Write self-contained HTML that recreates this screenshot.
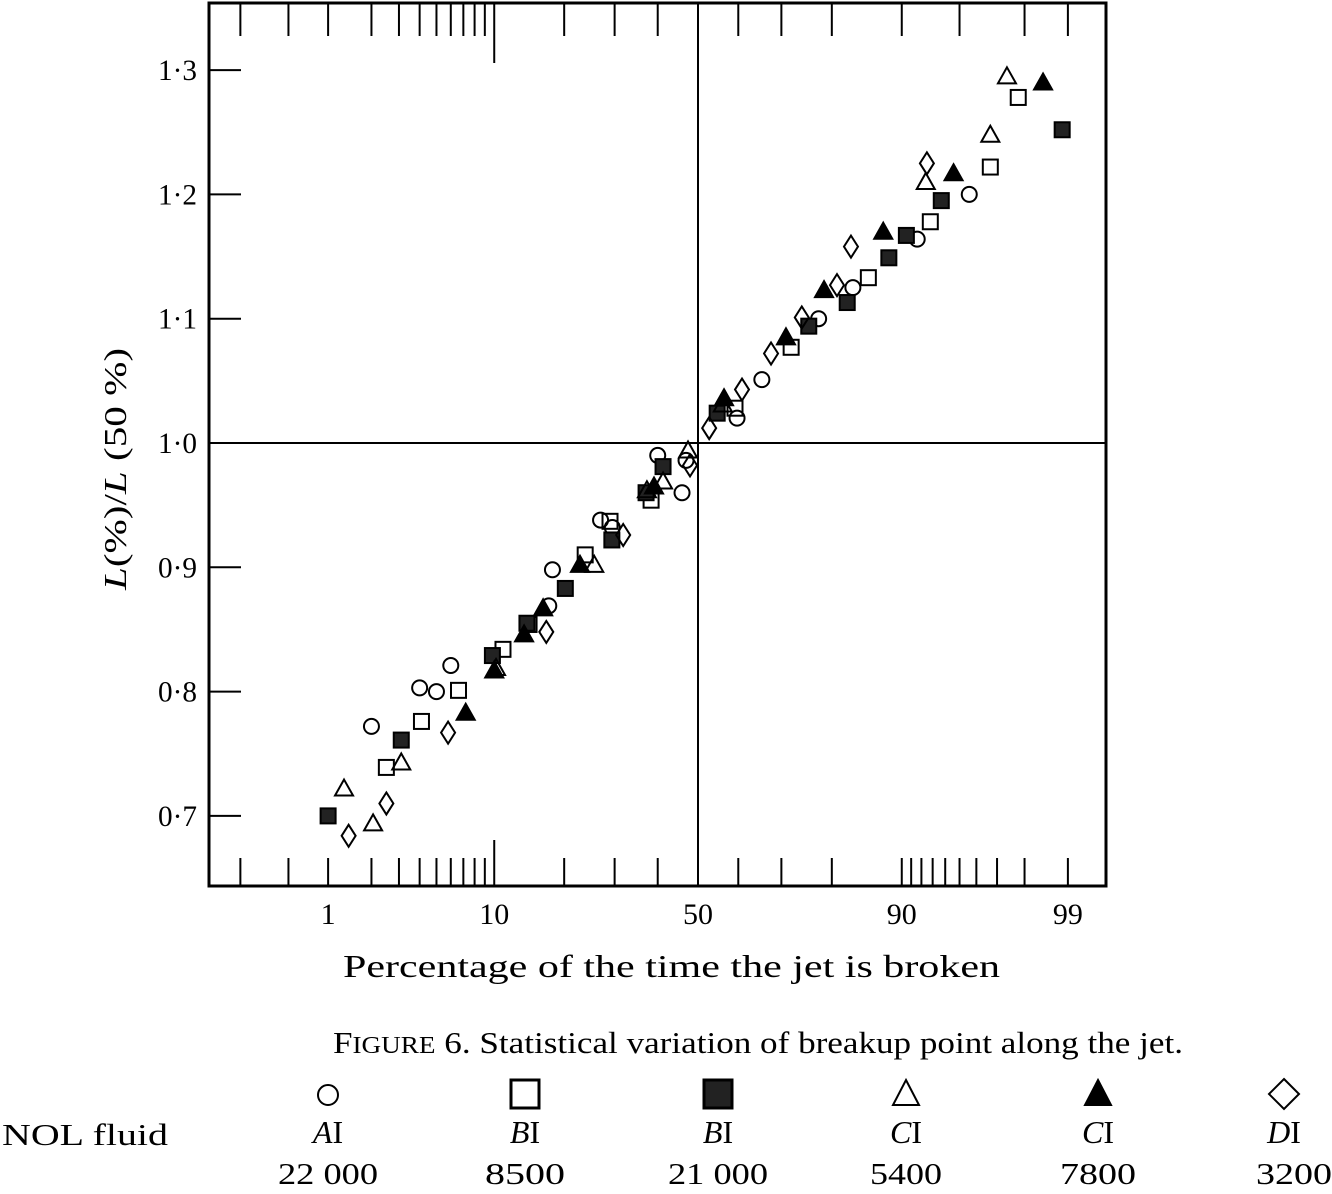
<!DOCTYPE html>
<html><head><meta charset="utf-8"><style>
body{margin:0;background:#fff;}
svg text{font-family:"Liberation Serif",serif;fill:#000;}
</style></head><body>
<svg id="chart" width="1332" height="1189" viewBox="0 0 1332 1189" xmlns="http://www.w3.org/2000/svg">
<g id="axes"></g>
<g id="marks"></g>
<text x="343" y="977" font-size="32" textLength="657" lengthAdjust="spacingAndGlyphs">Percentage of the time the jet is broken</text>
<text transform="translate(126,469) rotate(-90)" x="-121" y="0" font-size="32" textLength="242" lengthAdjust="spacingAndGlyphs"><tspan font-style="italic">L</tspan>(%)/<tspan font-style="italic">L</tspan> (50 %)</text>
<text x="333" y="1053" font-size="31" textLength="850" lengthAdjust="spacingAndGlyphs">F<tspan font-size="24">IGURE</tspan> 6. Statistical variation of breakup point along the jet.</text>
<text x="2" y="1145" font-size="31" textLength="166" lengthAdjust="spacingAndGlyphs">NOL fluid</text>
<g id="legend"></g>
</svg>
<script>
const yTicks=[0.7,0.8,0.9,1.0,1.1,1.2,1.3];
const yTickLabels=["0·7","0·8","0·9","1·0","1·1","1·2","1·3"];
const xLabelTicks=[1,10,50,90,99];
const bottomTicks=[0.2,0.5,1,2,3,4,5,6,7,8,9,10,20,30,40,50,60,70,80,90,91,92,93,94,95,96,97,98,99];
const topTicks=[0.2,0.5,1,2,3,4,5,6,7,8,9,10,20,30,40,50,60,70,80,90,95,98,99];
const aX=[2.0,4.0,5.0,6.0,18,17.4,27,29.5,40,46,47,59.7,65.6,77.6,83.5,91.6,95.6];
const aY=[0.772,0.803,0.800,0.821,0.898,0.869,0.938,0.932,0.990,0.960,0.986,1.020,1.051,1.100,1.125,1.164,1.200];
const bX=[2.5,4.1,6.6,11,14.4,23.9,29,38.4,59.2,72.1,85.8,92.8,96.7,97.8];
const bY=[0.739,0.776,0.801,0.834,0.854,0.910,0.937,0.954,1.028,1.077,1.133,1.178,1.222,1.278];
const b2X=[1.0,3.1,9.8,14.1,20.2,29.4,37.2,41.3,54.8,75.7,82.6,88.5,90.5,93.7,98.9];
const b2Y=[0.700,0.761,0.829,0.855,0.883,0.922,0.960,0.981,1.024,1.094,1.113,1.149,1.167,1.195,1.252];
const cX=[1.3,2.05,3.1,10.2,25.7,37.4,41.3,47.5,56.2,92.4,96.7,97.4];
const cY=[0.722,0.694,0.743,0.819,0.902,0.962,0.969,0.994,1.031,1.210,1.248,1.295];
const c2X=[7.2,10,13.7,16.5,22.9,39.1,56.5,71,78.6,87.8,94.6,98.5];
const c2Y=[0.783,0.817,0.846,0.867,0.902,0.965,1.036,1.085,1.123,1.170,1.217,1.290];
const dX=[1.4,2.5,5.8,17,31.9,48,52.8,60.9,67.7,74.3,80.9,83.2,92.5];
const dY=[0.684,0.710,0.767,0.848,0.926,0.982,1.012,1.043,1.072,1.101,1.127,1.158,1.225];
const legendNames=["AI","BI","BI","CI","CI","DI"];
const legendValues=["22 000","8500","21 000","5400","7800","3200"];

const NS="http://www.w3.org/2000/svg";
const L=209,R=1106,T=3,B=886;
function ninv(p){const a=[-39.69683028665376,220.9460984245205,-275.9285104469687,138.357751867269,-30.66479806614716,2.506628277459239],b=[-54.47609879822406,161.5858368580409,-155.6989798598866,66.80131188771972,-13.28068155288572],c=[-0.007784894002430293,-0.3223964580411365,-2.400758277161838,-2.549732539343734,4.374664141464968,2.938163982698783],d=[0.007784695709041462,0.3224671290700398,2.445134137142996,3.754408661907416];
if(p<0.02425){const q=Math.sqrt(-2*Math.log(p));return(((((c[0]*q+c[1])*q+c[2])*q+c[3])*q+c[4])*q+c[5])/((((d[0]*q+d[1])*q+d[2])*q+d[3])*q+1);}
if(p>1-0.02425){const q=Math.sqrt(-2*Math.log(1-p));return-(((((c[0]*q+c[1])*q+c[2])*q+c[3])*q+c[4])*q+c[5])/((((d[0]*q+d[1])*q+d[2])*q+d[3])*q+1);}
const q=p-0.5,r=q*q;return(((((a[0]*r+a[1])*r+a[2])*r+a[3])*r+a[4])*r+a[5])*q/(((((b[0]*r+b[1])*r+b[2])*r+b[3])*r+b[4])*r+1);}
function xS(pct){return 698+159*ninv(pct/100);}
function yS(v){return 443-(v-1)*1243;}
function mk(tag,attrs,parent){const e=document.createElementNS(NS,tag);for(const k in attrs)e.setAttribute(k,attrs[k]);parent.appendChild(e);return e;}
const ax=document.getElementById('axes');
const frame=mk('rect',{x:L,y:T,width:R-L,height:B-T,fill:'none',stroke:'#000','stroke-width':3},ax);


const vl=mk('line',{x1:xS(50),x2:xS(50),y1:T,y2:B,stroke:'#000','stroke-width':2},ax);


const hl=mk('line',{x1:L,x2:R,y1:yS(1),y2:yS(1),stroke:'#000','stroke-width':2},ax);


yTicks.forEach((v,i)=>{
 const t=mk('line',{x1:L,x2:L+32,y1:yS(v),y2:yS(v),stroke:'#000','stroke-width':2},ax);
 
 
 const tx=mk('text',{x:158,y:yS(v)+10,'font-size':30,textLength:39,lengthAdjust:'spacingAndGlyphs'},ax);
 tx.textContent=yTickLabels[i];
 
 
});
bottomTicks.forEach(p=>{
 const len=p===10?46:28;
 const t=mk('line',{x1:xS(p),x2:xS(p),y1:B-len,y2:B,stroke:'#000','stroke-width':2},ax);
 
 
});
topTicks.forEach(p=>{
 const t=mk('line',{x1:xS(p),x2:xS(p),y1:T,y2:T+(p===10?60:33),stroke:'#000','stroke-width':2},ax);
 
 
});
xLabelTicks.forEach(p=>{
 const tx=mk('text',{x:xS(p),y:924,'text-anchor':'middle','font-size':30},ax);
 tx.textContent=String(p);
 
 
});
function marker(kind,cx,cy,parent){
 const s=7.5;let e;
 if(kind==='circle')e=mk('circle',{cx:cx,cy:cy,r:7.5,fill:'none',stroke:'#000','stroke-width':2},parent);
 else if(kind==='square')e=mk('rect',{x:cx-s,y:cy-s,width:2*s,height:2*s,fill:'none',stroke:'#000','stroke-width':2},parent);
 else if(kind==='fsquare')e=mk('rect',{x:cx-s,y:cy-s,width:2*s,height:2*s,fill:'#222',stroke:'#000','stroke-width':2},parent);
 else if(kind==='tri')e=mk('polygon',{points:`${cx},${cy-9} ${cx+9},${cy+7} ${cx-9},${cy+7}`,fill:'none',stroke:'#000','stroke-width':2},parent);
 else if(kind==='ftri')e=mk('polygon',{points:`${cx},${cy-9} ${cx+9},${cy+7} ${cx-9},${cy+7}`,fill:'#000',stroke:'#000','stroke-width':2},parent);
 else e=mk('polygon',{points:`${cx},${cy-11} ${cx+7},${cy} ${cx},${cy+11} ${cx-7},${cy}`,fill:'none',stroke:'#000','stroke-width':2},parent);
 return e;
}
const series=[["circle",aX,aY,"point-a1-22000"],["square",bX,bY,"point-b1-8500"],["fsquare",b2X,b2Y,"point-b1-21000"],["tri",cX,cY,"point-c1-5400"],["ftri",c2X,c2Y,"point-c1-7800"],["diamond",dX,dY,"point-d1-3200"]];
const mg=document.getElementById('marks');
series.forEach(s=>{
 s[1].forEach((p,i)=>{
  const e=marker(s[0],xS(p),yS(s[2][i]),mg);
  
  
 });
});
const lg=document.getElementById('legend');
const legX=[328,525,718,906,1098,1294];
const legW=[100,80,100,72,76,76];
series.forEach((s,i)=>{
 const g=mk('g',{},lg);
 
 
 const cx=i===5?1284:legX[i];
 if(s[0]==='square'||s[0]==='fsquare'){mk('rect',{x:cx-14,y:1080,width:28,height:28,fill:s[0]==='fsquare'?'#222':'none',stroke:'#000','stroke-width':3},g);}
 else if(s[0]==='circle')mk('circle',{cx:cx,cy:1095,r:10,fill:'none',stroke:'#000','stroke-width':2},g);
 else if(s[0]==='diamond')mk('polygon',{points:`${cx},1079 ${cx+15},1094 ${cx},1109 ${cx-15},1094`,fill:'none',stroke:'#000','stroke-width':2},g);
 else mk('polygon',{points:`${cx},1080 ${cx+13},1105 ${cx-13},1105`,fill:s[0]==='ftri'?'#000':'none',stroke:'#000','stroke-width':2},g);
 const n=mk('text',{x:cx,y:1143,'text-anchor':'middle','font-size':32},g);
 n.innerHTML='<tspan font-style="italic">'+legendNames[i][0]+'</tspan>'+legendNames[i].slice(1);
 const v=mk('text',{x:legX[i]-legW[i]/2,y:1184,'font-size':31,textLength:legW[i],lengthAdjust:'spacingAndGlyphs'},g);
 v.textContent=legendValues[i];
});
</script>
</body></html>
